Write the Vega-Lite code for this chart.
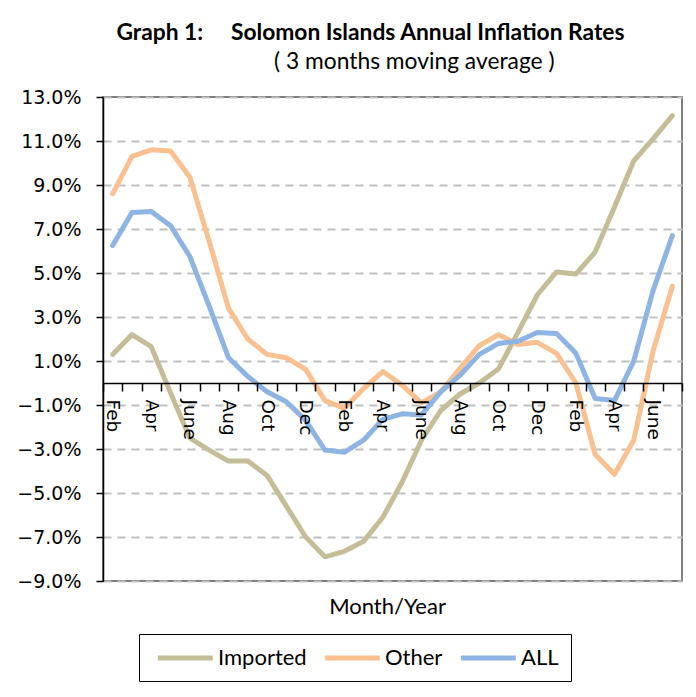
{
  "$schema": "https://vega.github.io/schema/vega-lite/v6.json",
  "autosize": {"type": "none"},
  "width": 579,
  "height": 484,
  "padding": {"left": 103, "top": 97, "right": 14, "bottom": 116},
  "background": "white",
  "title": {
    "text": "Graph 1:\u00a0\u00a0\u00a0\u00a0\u00a0Solomon Islands Annual Inflation Rates",
    "subtitle": "\u200b\u00a0\u00a0\u00a0\u00a0\u00a0\u00a0\u00a0\u00a0\u00a0\u00a0\u00a0\u00a0\u00a0\u00a0\u00a0( 3 months moving average )",
    "anchor": "middle",
    "dx": -22,
    "font": "Lato",
    "fontSize": 22.8,
    "fontWeight": "bold",
    "color": "#000000",
    "subtitleFont": "Lato",
    "subtitleFontSize": 22.8,
    "subtitleColor": "#000000",
    "subtitlePadding": 6,
    "offset": 14
  },
  "data": {
    "values": [
      {"n": 1, "month": "Feb", "Imported": 1.3, "Other": 8.6, "ALL": 6.25},
      {"n": 2, "month": "Mar", "Imported": 2.2, "Other": 10.3, "ALL": 7.75},
      {"n": 3, "month": "Apr", "Imported": 1.65, "Other": 10.6, "ALL": 7.8},
      {"n": 4, "month": "May", "Imported": -0.45, "Other": 10.55, "ALL": 7.15},
      {"n": 5, "month": "June", "Imported": -2.5, "Other": 9.35, "ALL": 5.75},
      {"n": 6, "month": "Jul", "Imported": -3.05, "Other": 6.45, "ALL": 3.5},
      {"n": 7, "month": "Aug", "Imported": -3.55, "Other": 3.4, "ALL": 1.15},
      {"n": 8, "month": "Sep", "Imported": -3.55, "Other": 2.0, "ALL": 0.3},
      {"n": 9, "month": "Oct", "Imported": -4.2, "Other": 1.3, "ALL": -0.4},
      {"n": 10, "month": "Nov", "Imported": -5.6, "Other": 1.15, "ALL": -0.85},
      {"n": 11, "month": "Dec", "Imported": -7.0, "Other": 0.62, "ALL": -1.7},
      {"n": 12, "month": "Jan", "Imported": -7.9, "Other": -0.8, "ALL": -3.05},
      {"n": 13, "month": "Feb", "Imported": -7.65, "Other": -1.15, "ALL": -3.15},
      {"n": 14, "month": "Mar", "Imported": -7.2, "Other": -0.25, "ALL": -2.6},
      {"n": 15, "month": "Apr", "Imported": -6.1, "Other": 0.52, "ALL": -1.65},
      {"n": 16, "month": "May", "Imported": -4.5, "Other": -0.1, "ALL": -1.4},
      {"n": 17, "month": "June", "Imported": -2.6, "Other": -0.9, "ALL": -1.45},
      {"n": 18, "month": "Jul", "Imported": -1.25, "Other": -0.4, "ALL": -0.4},
      {"n": 19, "month": "Aug", "Imported": -0.5, "Other": 0.67, "ALL": 0.35},
      {"n": 20, "month": "Sep", "Imported": 0.0, "Other": 1.7, "ALL": 1.3},
      {"n": 21, "month": "Oct", "Imported": 0.65, "Other": 2.2, "ALL": 1.8},
      {"n": 22, "month": "Nov", "Imported": 2.3, "Other": 1.75, "ALL": 1.9},
      {"n": 23, "month": "Dec", "Imported": 4.0, "Other": 1.85, "ALL": 2.3},
      {"n": 24, "month": "Jan", "Imported": 5.05, "Other": 1.35, "ALL": 2.25},
      {"n": 25, "month": "Feb", "Imported": 4.95, "Other": 0.0, "ALL": 1.35},
      {"n": 26, "month": "Mar", "Imported": 5.95, "Other": -3.25, "ALL": -0.7},
      {"n": 27, "month": "Apr", "Imported": 8.0, "Other": -4.15, "ALL": -0.8},
      {"n": 28, "month": "May", "Imported": 10.1, "Other": -2.6, "ALL": 1.0},
      {"n": 29, "month": "June", "Imported": 11.1, "Other": 1.45, "ALL": 4.2},
      {"n": 30, "month": "Jul", "Imported": 12.15, "Other": 4.4, "ALL": 6.7}
    ]
  },
  "transform": [
    {"fold": ["Imported", "Other", "ALL"], "as": ["series", "value"]}
  ],
  "mark": {"type": "line", "strokeWidth": 5, "strokeCap": "round", "strokeJoin": "round"},
  "encoding": {
    "x": {
      "field": "n",
      "type": "ordinal",
      "bandPosition": 0.5,
      "scale": {"type": "band", "paddingInner": 0, "paddingOuter": 0},
      "axis": {
        "zindex": 1,
        "title": "Month/Year",
        "titleFont": "Lato",
        "titleFontSize": 22,
        "titleFontWeight": "normal",
        "titleColor": "#000000",
        "titleY": 223,
        "titleX": 284,
        "titleBaseline": "middle",
        "offset": -198,
        "tickBand": "extent",
        "tickSize": 8,
        "tickColor": "#000000",
        "tickWidth": 1.5,
        "domainColor": "#000000",
        "domainWidth": 1.5,
        "labelAngle": 90,
        "labelAlign": "left",
        "labelBaseline": "middle",
        "labelPadding": 8,
        "labelFont": "DejaVu Sans",
        "labelFontSize": 18.5,
        "labelColor": "#000000",
        "labelOverlap": false,
        "labelExpr": "datum.value % 2 == 1 ? ['Jan','Feb','Mar','Apr','May','June','Jul','Aug','Sep','Oct','Nov','Dec'][datum.value % 12] : ''",
        "grid": false
      }
    },
    "y": {
      "field": "value",
      "type": "quantitative",
      "scale": {"domain": [-9, 13], "nice": false, "zero": false},
      "axis": {
        "title": null,
        "values": [-9, -7, -5, -3, -1, 1, 3, 5, 7, 9, 11, 13],
        "labelExpr": "format(datum.value, '.1f') + '%'",
        "labelFont": "DejaVu Sans",
        "labelFontSize": 19,
        "labelColor": "#000000",
        "labelPadding": 15,
        "tickSize": 7,
        "tickColor": "#000000",
        "tickWidth": 1.5,
        "domainColor": "#000000",
        "domainWidth": 1.5,
        "grid": true,
        "gridColor": "#c0c0c0",
        "gridWidth": 2,
        "gridDash": [8, 6]
      }
    },
    "color": {
      "field": "series",
      "type": "nominal",
      "scale": {"domain": ["Imported", "Other", "ALL"], "range": ["#c4bd97", "#fac090", "#8eb4e3"]},
      "legend": {
        "title": null,
        "orient": "none",
        "direction": "horizontal",
        "legendX": 36,
        "legendY": 537,
        "symbolType": "M-0.564,0H5.43",
        "symbolStrokeWidth": 5,
        "symbolSize": 336,
        "labelFont": "Lato",
        "labelFontSize": 22,
        "labelColor": "#000000",
        "labelOffset": 43,
        "columnPadding": 7,
        "padding": 12,
        "strokeColor": "#000000",
        "fillColor": "white"
      }
    },
    "order": {"field": "n", "type": "quantitative"}
  },
  "config": {
    "view": {"stroke": "#7f7f7f", "strokeWidth": 2}
  }
}
